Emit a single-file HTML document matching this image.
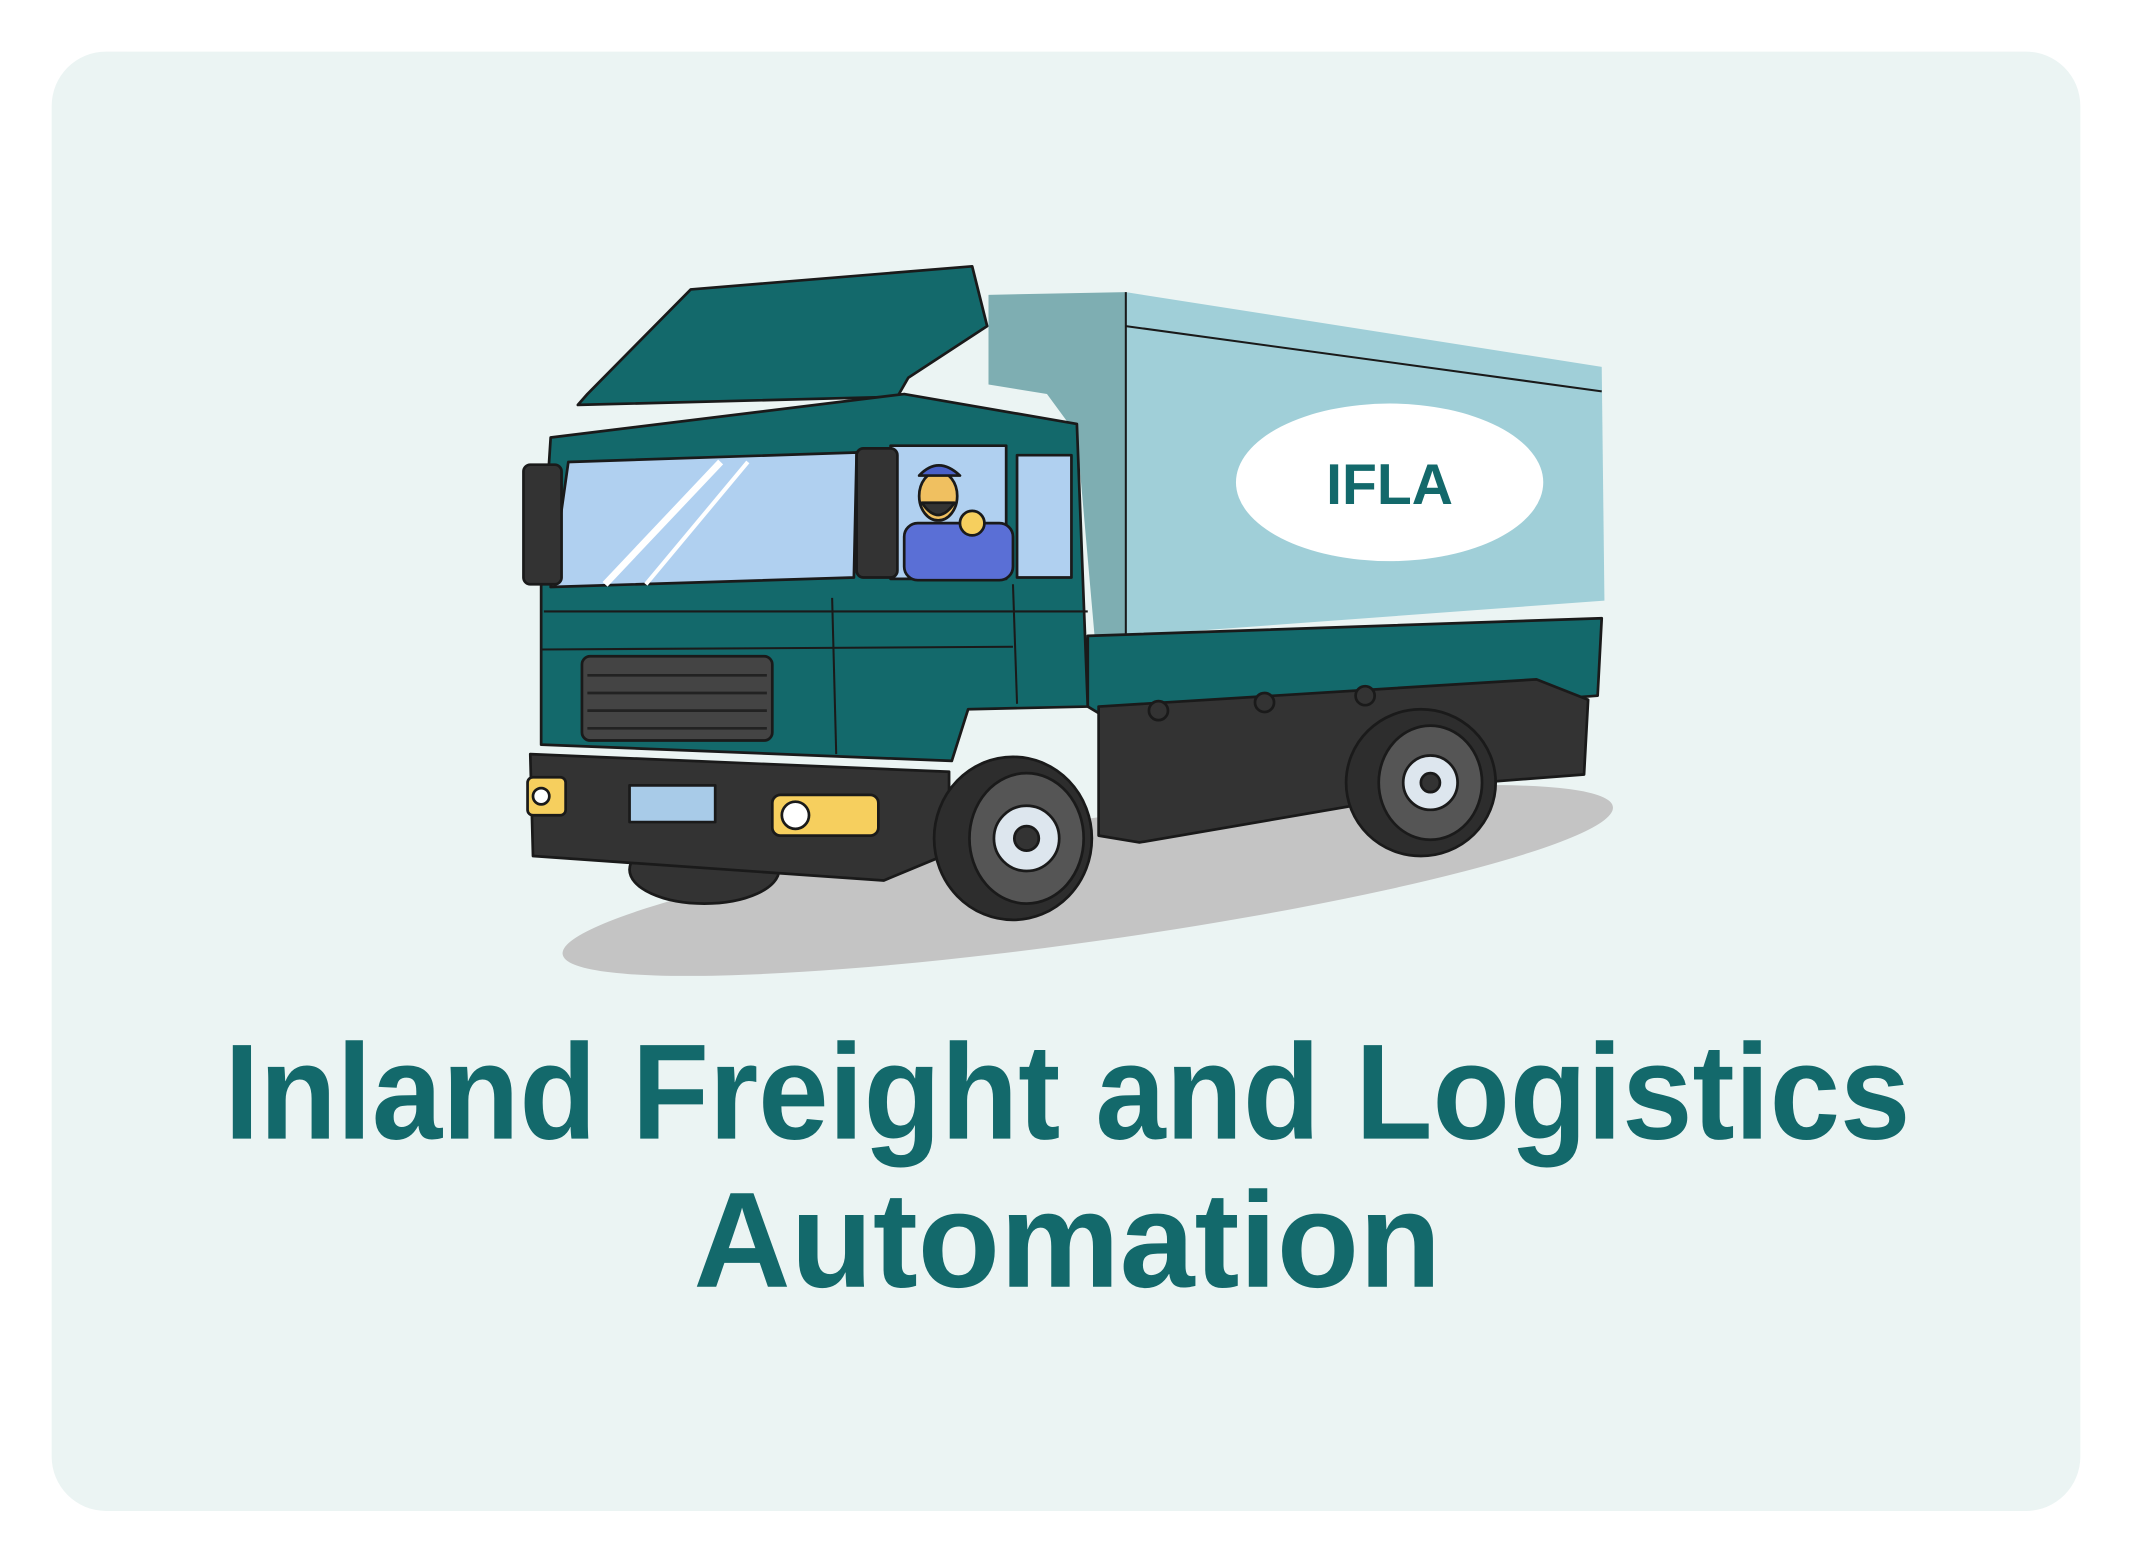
<!DOCTYPE html>
<html><head><meta charset="utf-8"><style>
html,body{margin:0;padding:0;background:#fff;}
svg{display:block;}
</style></head><body>
<svg width="2132" height="1549" viewBox="0 0 1568 1140" preserveAspectRatio="none">
<rect x="38" y="38" width="1492" height="1074" rx="40" fill="#ebf4f3"/>
<g stroke="#1a1a1a" stroke-width="2" stroke-linejoin="round">
<ellipse cx="800" cy="648" rx="390" ry="45" transform="rotate(-8 800 648)" fill="#c4c4c4" stroke="none"/>
<polygon points="727,217 828,215 828,468 805,468 792,320 770,290 727,283" fill="#7eaeb2" stroke="none"/>
<polygon points="828,215 1178,270 1180,442 828,468" fill="#a0cfd8" stroke="none"/>
<line x1="828" y1="240" x2="1178" y2="288" stroke-width="1.5"/>
<line x1="828" y1="215" x2="828" y2="468" stroke-width="1.5"/>
<polygon points="800,468 1178,455 1175,512 830,538 800,520" fill="#13696b"/>
<polygon points="808,520 1130,500 1168,515 1165,570 1100,575 838,620 808,615" fill="#333"/>
<circle cx="852" cy="523" r="7" fill="#333"/><circle cx="930" cy="517" r="7" fill="#333"/><circle cx="1004" cy="512" r="7" fill="#333"/>
<ellipse cx="1045" cy="576" rx="55" ry="54" fill="#2d2d2d"/>
<ellipse cx="1052" cy="576" rx="38" ry="42" fill="#555"/>
<circle cx="1052" cy="576" r="20" fill="#dde6ee"/><circle cx="1052" cy="576" r="7" fill="#333"/>
<ellipse cx="1022" cy="355" rx="113" ry="58" fill="#ffffff" stroke="none"/>
<text x="1022" y="371" text-anchor="middle" font-family="Liberation Sans, sans-serif" font-size="42" font-weight="bold" fill="#13696b" stroke="none">IFLA</text>
<polygon points="508,213 715,196 726,240 668,278 660,292 425,298 432,290" fill="#13696b"/>
<polygon points="405,322 665,290 792,312 800,520 712,522 700,560 398,548 398,430" fill="#13696b"/>
<polygon points="418,340 630,333 628,425 405,432" fill="#b0d0f0"/>
<line x1="445" y1="430" x2="530" y2="340" stroke="#fff" stroke-width="5"/>
<line x1="475" y1="430" x2="550" y2="340" stroke="#fff" stroke-width="3"/>
<rect x="655" y="328" width="85" height="98" fill="#b0d0f0"/>
<rect x="748" y="335" width="40" height="90" fill="#b0d0f0"/>
<g>
<rect x="665" y="385" width="80" height="42" rx="10" fill="#5a6fd6"/>
<ellipse cx="690" cy="365" rx="14" ry="18" fill="#f0c060"/>
<path d="M676,350 Q690,335 706,350 Z" fill="#4a60c8"/>
<path d="M678,370 Q690,388 702,370 Z" fill="#333"/>
<circle cx="715" cy="385" r="9" fill="#f6cf5e"/>
</g>
<rect x="385" y="342" width="28" height="88" rx="5" fill="#333"/>
<rect x="630" y="330" width="30" height="95" rx="5" fill="#333"/>
<line x1="400" y1="450" x2="800" y2="450" stroke-width="1.5"/>
<line x1="398" y1="478" x2="745" y2="476" stroke-width="1.5"/>
<line x1="612" y1="440" x2="615" y2="555" stroke-width="1.5"/>
<line x1="745" y1="430" x2="748" y2="518" stroke-width="1.5"/>
<rect x="428" y="483" width="140" height="62" rx="6" fill="#444"/>
<g stroke="#222" stroke-width="2"><line x1="432" y1="497" x2="564" y2="497"/><line x1="432" y1="510" x2="564" y2="510"/><line x1="432" y1="523" x2="564" y2="523"/><line x1="432" y1="536" x2="564" y2="536"/></g>
<ellipse cx="518" cy="640" rx="55" ry="25" fill="#333"/>
<polygon points="390,555 698,568 698,628 650,648 392,630" fill="#333"/>
<rect x="463" y="578" width="63" height="27" fill="#a8cbe8"/>
<rect x="388" y="572" width="28" height="28" rx="4" fill="#f6cf5e"/>
<circle cx="398" cy="586" r="6" fill="#fff"/>
<rect x="568" y="585" width="78" height="30" rx="6" fill="#f6cf5e"/>
<circle cx="585" cy="600" r="10" fill="#fff"/>
<ellipse cx="745" cy="617" rx="58" ry="60" fill="#2d2d2d"/>
<ellipse cx="755" cy="617" rx="42" ry="48" fill="#555"/>
<circle cx="755" cy="617" r="24" fill="#dde6ee"/><circle cx="755" cy="617" r="9" fill="#333"/>
</g>
<text x="785" y="838" text-anchor="middle" textLength="1240" lengthAdjust="spacingAndGlyphs" font-family="Liberation Sans, sans-serif" font-size="100" font-weight="bold" fill="#13696b">Inland Freight and Logistics</text>
<text x="785" y="947" text-anchor="middle" textLength="550" lengthAdjust="spacingAndGlyphs" font-family="Liberation Sans, sans-serif" font-size="100" font-weight="bold" fill="#13696b">Automation</text>
</svg>
</body></html>
